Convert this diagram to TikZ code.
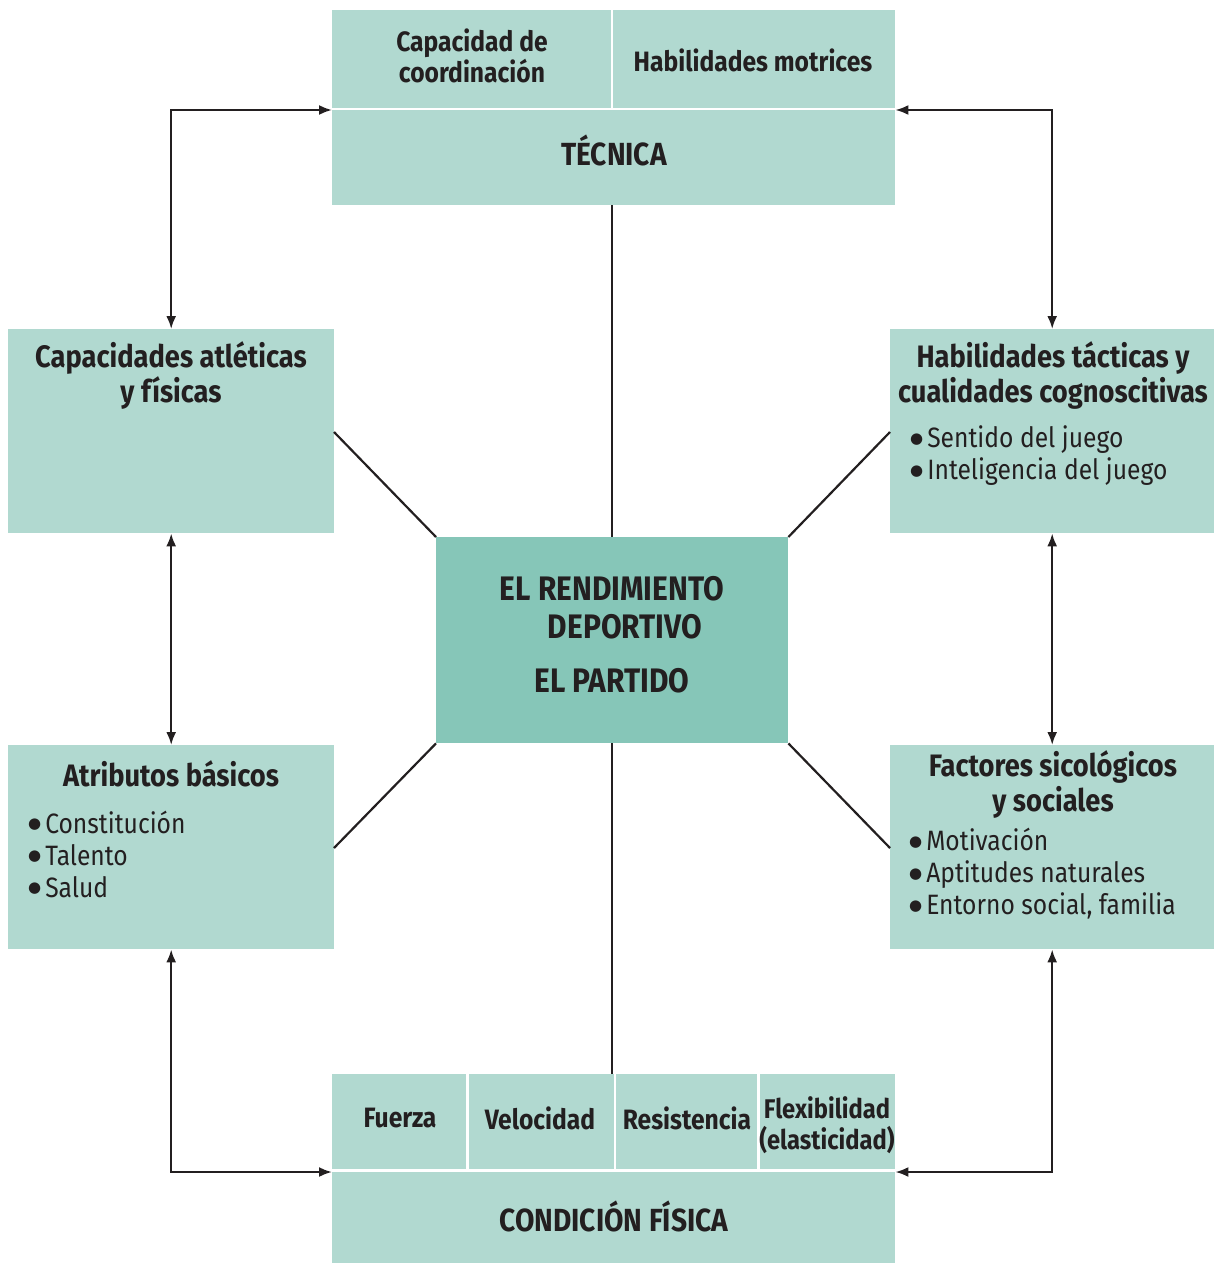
\documentclass[tikz,border=0pt]{standalone}
\usepackage{fontspec}
\setmainfont[FakeStretch=0.88]{Fira Sans}
\newfontfamily\dejavu{DejaVu Sans}
\usetikzlibrary{arrows.meta}
\definecolor{boxlight}{RGB}{177,217,208}
\definecolor{boxdark}{RGB}{134,198,184}
\definecolor{txt}{RGB}{35,31,32}
\newcommand\bul{\raisebox{4.5pt}{\dejavu\fontsize{15}{0}\selectfont ●}\hspace{4pt}}
\begin{document}
\begin{tikzpicture}[x=1pt,y=-1pt,
  box/.style={fill=boxlight,draw=none,inner sep=0pt,anchor=north west},
  hd/.style={font=\fontsize{31}{35}\selectfont\bfseries,text=txt,align=center,inner sep=0pt},
  big/.style={font=\fontsize{32}{38}\selectfont\bfseries,text=txt,align=center,inner sep=0pt},
  sub/.style={font=\fontsize{28}{31}\selectfont\bfseries,text=txt,align=center,inner sep=0pt},
  bl/.style={font=\fontsize{28}{32}\selectfont,text=txt,align=left,inner sep=0pt,anchor=west},
  conn/.style={line width=2.2pt,draw=txt},
  dbl/.style={conn,{Latex[length=13pt,width=10pt]}-{Latex[length=13pt,width=10pt]}}]
\useasboundingbox (0,0) rectangle (1215,1263);
% top block
\node[box,minimum width=279pt,minimum height=98pt] (coord) at (332,10) {};
\node[box,minimum width=282pt,minimum height=98pt] (motr) at (613,10) {};
\node[box,minimum width=563pt,minimum height=95pt] (tec) at (332,110) {};
\node[sub] (tcoord) at (472,56) {Capacidad de\\coordinación};
\node[sub] (tmotr) at (753,60) {Habilidades motrices};
\node[big,anchor=base] (ttec) at (614,165) {TÉCNICA};
% bottom block
\node[box,minimum width=134pt,minimum height=95pt] (fue) at (332,1074) {};
\node[box,minimum width=145pt,minimum height=95pt] (vel) at (469,1074) {};
\node[box,minimum width=141pt,minimum height=95pt] (res) at (616,1074) {};
\node[box,minimum width=135pt,minimum height=95pt] (fle) at (760,1074) {};
\node[box,minimum width=563pt,minimum height=91pt] (cond) at (332,1172) {};
\node[sub] (tfue) at (400,1118) {Fuerza};
\node[sub] (tvel) at (540,1118) {Velocidad};
\node[sub] (tres) at (687,1118) {Resistencia};
\node[sub,font=\fontsize{27}{31}\selectfont\bfseries] (tfle) at (827,1125) {Flexibilidad\\(elasticidad)};
\node[big,anchor=base] (tcond) at (614,1231) {CONDICIÓN FÍSICA};
% side boxes
\node[box,minimum width=326pt,minimum height=204pt] (atl) at (8,329) {};
\node[box,minimum width=324pt,minimum height=204pt] (tac) at (890,329) {};
\node[box,minimum width=326pt,minimum height=204pt] (atr) at (8,745) {};
\node[box,minimum width=324pt,minimum height=204pt] (fac) at (890,745) {};
% center
\node[box,fill=boxdark,minimum width=352pt,minimum height=206pt] (cen) at (436,537) {};
\node[big,font=\fontsize{34}{38}\selectfont\bfseries] (tcen) at (612,608) {EL RENDIMIENTO\\\hspace*{26pt}DEPORTIVO};
\node[big,font=\fontsize{34}{38}\selectfont\bfseries] (tpar) at (612,681) {EL PARTIDO};
% side texts
\node[hd] (tatl) at (171,375) {Capacidades atléticas\\y físicas};
\node[hd] (ttac) at (1053,375) {Habilidades tácticas y\\cualidades cognoscitivas};
\node[bl] (btac) at (910,456) {\bul Sentido del juego\\\bul Inteligencia del juego};
\node[hd] (tatr) at (171,774) {Atributos básicos};
\node[bl] (batr) at (28,854) {\bul Constitución\\\bul Talento\\\bul Salud};
\node[hd] (tfac) at (1053,784) {Factores sicológicos\\y sociales};
\node[bl] (bfac) at (909,874) {\bul Motivación\\\bul Aptitudes naturales\\\bul Entorno social, familia};
% connectors
\draw[conn] (cen.north) -- (cen.north |- tec.south);
\draw[conn] (cen.south) -- (cen.south |- res.north);
\coordinate (c1) at (334,432);
\coordinate (c2) at (890,432);
\coordinate (c3) at (334,848);
\coordinate (c4) at (890,848);
\draw[conn] (c1) -- (cen.north west);
\draw[conn] (c2) -- (cen.north east);
\draw[conn] (c3) -- (cen.south west);
\draw[conn] (c4) -- (cen.south east);
% arrows
\draw[dbl] (tec.north west) -| (atl.north);
\draw[dbl] (tec.north east) -| (tac.north);
\draw[dbl] (atl.south) -- (atr.north);
\draw[dbl] (tac.south) -- (fac.north);
\draw[dbl] (atr.south) |- (cond.north west);
\draw[dbl] (fac.south) |- (cond.north east);
\end{tikzpicture}
\end{document}
